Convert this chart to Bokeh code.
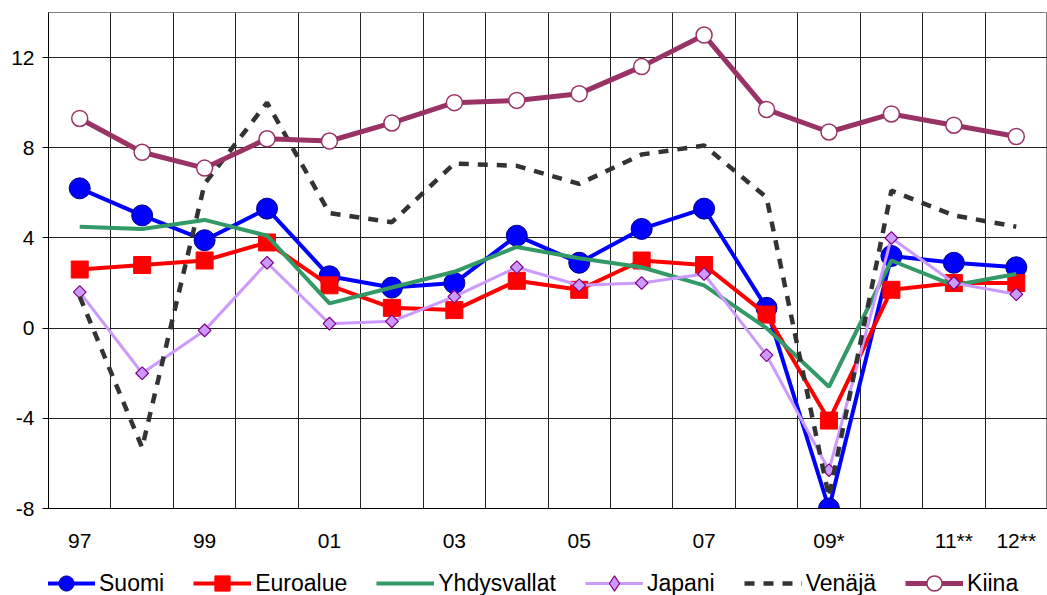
from bokeh.plotting import figure
from bokeh.layouts import column
from bokeh.models import FixedTicker, Legend, LegendItem, Range1d
from bokeh.embed import file_html
from bokeh.resources import INLINE
import math

years = ["97", "98", "99", "00", "01", "02", "03", "04", "05", "06", "07", "08", "09*", "10", "11**", "12**"]
shown_labels = ["97", "99", "01", "03", "05", "07", "09*", "11**", "12**"]

suomi = [6.2, 5.0, 3.9, 5.3, 2.3, 1.8, 2.0, 4.1, 2.9, 4.4, 5.3, 0.9, -8.0, 3.2, 2.9, 2.7]
euroalue = [2.6, 2.8, 3.0, 3.8, 1.9, 0.9, 0.8, 2.1, 1.7, 3.0, 2.8, 0.6, -4.1, 1.7, 2.0, 2.0]
yhdysvallat = [4.5, 4.4, 4.8, 4.1, 1.1, 1.8, 2.5, 3.6, 3.1, 2.7, 1.9, 0.0, -2.6, 3.0, 1.9, 2.4]
japani = [1.6, -2.0, -0.1, 2.9, 0.2, 0.3, 1.4, 2.7, 1.9, 2.0, 2.4, -1.2, -6.3, 4.0, 2.0, 1.5]
venaja = [1.4, -5.3, 6.4, 10.0, 5.1, 4.7, 7.3, 7.2, 6.4, 7.7, 8.1, 5.8, -7.5, 6.1, 5.0, 4.5]
kiina = [9.3, 7.8, 7.1, 8.4, 8.3, 9.1, 10.0, 10.1, 10.4, 11.6, 13.0, 9.7, 8.7, 9.5, 9.0, 8.5]

series_names = ["Suomi", "Euroalue", "Yhdysvallat", "Japani", "Venäjä", "Kiina"]
y_ticks = [-8, -4, 0, 4, 8, 12]

x = list(range(len(years)))

p = figure(width=1047, height=560, output_backend="svg", toolbar_location=None,
           x_range=Range1d(-0.5, len(years) - 0.5), y_range=Range1d(-8, 14),
           min_border_left=48, min_border_right=0, min_border_top=12, min_border_bottom=52)

p.background_fill_color = "white"
p.outline_line_color = "#808080"
p.outline_line_width = 1

# grids
p.xgrid.ticker = FixedTicker(ticks=[i + 0.5 for i in x[:-1]])
p.xgrid.grid_line_color = "#222222"
p.xgrid.grid_line_width = 1
p.ygrid.ticker = FixedTicker(ticks=y_ticks + [14])
p.ygrid.grid_line_color = "#222222"
p.ygrid.grid_line_width = 1

# y axis
p.yaxis.ticker = FixedTicker(ticks=y_ticks)
p.yaxis.major_label_overrides = {t: str(t) for t in y_ticks}
p.yaxis.major_tick_out = 6
p.yaxis.major_tick_in = 0
p.yaxis.minor_tick_line_color = None
p.yaxis.axis_line_color = "black"
p.yaxis.major_tick_line_color = "black"
p.yaxis.major_label_standoff = 8
p.yaxis.major_label_text_font = "Liberation Sans"
p.yaxis.major_label_text_font_size = "21px"
p.yaxis.major_label_text_color = "black"

# x axis
tick_pos = [years.index(l) for l in shown_labels]
p.xaxis.ticker = FixedTicker(ticks=tick_pos)
p.xaxis.major_label_overrides = {years.index(l): l for l in shown_labels}
p.xaxis.major_tick_out = 0
p.xaxis.major_tick_in = 0
p.xaxis.minor_tick_line_color = None
p.xaxis.axis_line_color = "black"
p.xaxis.major_label_standoff = 20
p.xaxis.major_label_text_font = "Liberation Sans"
p.xaxis.major_label_text_font_size = "21px"
p.xaxis.major_label_text_color = "black"

# styles per series
styles = [
    dict(line=dict(line_color="#0000FF", line_width=4),
         marker=dict(marker="circle", size=21, fill_color="#0000FF", line_color="#000080", line_width=1)),
    dict(line=dict(line_color="#FF0000", line_width=4),
         marker=dict(marker="square", size=17, fill_color="#FF0000", line_color="#FF0000")),
    dict(line=dict(line_color="#339966", line_width=4), marker=None),
    dict(line=dict(line_color="#CC99FF", line_width=3),
         marker=dict(marker="square", size=9, angle=math.pi / 4, fill_color="#CC99FF", line_color="#800080", line_width=1.2)),
    dict(line=dict(line_color="#333333", line_width=4.5, line_dash="10 9"), marker=None),
    dict(line=dict(line_color="#993366", line_width=5),
         marker=dict(marker="circle", size=16, fill_color="white", line_color="#993366", line_width=1.5)),
]
data = [suomi, euroalue, yhdysvallat, japani, venaja, kiina]

for vals, st in zip(data, styles):
    p.line(x, vals, **st["line"])
    if st["marker"] is not None:
        p.scatter(x, vals, **st["marker"])

# legend strip below the chart (its range is away from the data, so only the legend shows)
q = figure(width=1047, height=35, output_backend="svg", toolbar_location=None,
           x_range=Range1d(1000, 1001), y_range=Range1d(1000, 1001),
           x_axis_location=None, y_axis_location=None,
           min_border_left=0, min_border_right=0, min_border_top=0, min_border_bottom=0)
q.grid.visible = False
q.outline_line_color = None
q.background_fill_color = "white"

items = []
for name, vals, st in zip(series_names, data, styles):
    rs = [q.line(x, vals, **st["line"])]
    if st["marker"] is not None:
        mk = dict(st["marker"])
        if mk["marker"] == "square" and "angle" in mk:
            mk.pop("angle")
            mk["marker"] = "diamond"
        rs.append(q.scatter(x, vals, **mk))
    items.append(LegendItem(label=name, renderers=rs))

legend = Legend(items=items, orientation="horizontal", location=(-11, -7))
legend.label_text_font = "Liberation Sans"
legend.label_text_font_size = "23px"
legend.label_text_color = "black"
legend.glyph_width = 58
legend.glyph_height = 38
legend.label_standoff = 4
legend.spacing = 29
legend.padding = 0
legend.margin = 0
legend.border_line_alpha = 0
legend.background_fill_alpha = 0
q.add_layout(legend)

layout = column(p, q, spacing=0)
open("out.html", "w").write(file_html(layout, INLINE))
